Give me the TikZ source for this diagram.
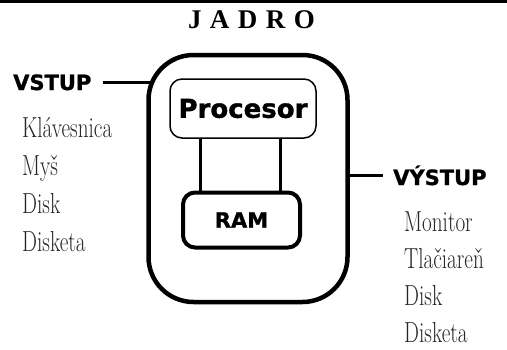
\documentclass[tikz,border=0pt]{standalone}
\usepackage{fontspec}
\usepackage{graphicx}
\usetikzlibrary{positioning}
\newfontfamily\titlefont{Liberation Serif}
\newfontfamily\labelfont{DejaVu Sans}[BoldFeatures={FakeBold=1.2}]
\newcommand{\narrowtxt}[1]{\scalebox{0.73}[1]{#1}}
\newcommand{\tgap}{\hspace{8.5pt}}

\begin{document}
\begin{tikzpicture}[x=1pt,y=-1pt,
  heading/.style={anchor=base west,inner sep=0pt,font=\labelfont\bfseries\fontsize{21}{25}\selectfont},
  item/.style={anchor=base west,inner sep=0pt,text=black!85,font=\fontsize{29}{34}\selectfont},
  wire/.style={line width=3pt},
  unit/.style={draw,rounded corners=12pt,inner sep=0pt}]
\useasboundingbox (0,0) rectangle (507,349);
\draw[line width=3pt] (0,1.5) -- (507,1.5);
\node[anchor=base,inner sep=0pt,font=\titlefont\bfseries\fontsize{27}{30}\selectfont] (title) at (251.5,28) {J\tgap A\tgap D\tgap R\tgap O};

% jadro s procesorom a pamatou
\node[draw,line width=4.5pt,rounded corners=45pt,minimum width=199pt,minimum height=247pt,inner sep=0pt] (core) at (248,178.5) {};
\node[unit,line width=1.5pt,minimum width=146pt,minimum height=59pt,font=\labelfont\bfseries\fontsize{26}{30}\selectfont] (cpu) at (243,108.5) {Procesor};
\node[unit,line width=4pt,minimum width=117pt,minimum height=55pt,font=\labelfont\bfseries\fontsize{21}{24}\selectfont] (ram) at (241.5,220) {RAM};
\coordinate (busl) at ([xshift=-43pt]cpu.south);
\coordinate (busr) at ([xshift=37pt]cpu.south);
\draw[wire] (busl) -- (busl |- ram.north);
\draw[wire] (busr) -- (busr |- ram.north);

% vstup
\node[heading] (vstup) at (13,90) {VSTUP};
\coordinate (inpt) at (vstup.east -| core.west);
\draw[wire] ([xshift=11pt]vstup.east) -- ([xshift=5pt]inpt);
\node[item] (in1) at (22,137) {\narrowtxt{Klávesnica}};
\node[item] (in2) at (22,175) {\narrowtxt{Myš}};
\node[item] (in3) at (22,213) {\narrowtxt{Disk}};
\node[item] (in4) at (22,251) {\narrowtxt{Disketa}};

% vystup
\node[heading] (vystup) at (393,185) {VÝSTUP};
\coordinate (outpt) at (vystup.west -| core.east);
\draw[wire] (outpt) -- ([xshift=-10pt]vystup.west);
\node[item] (out1) at (404,231) {\narrowtxt{Monitor}};
\node[item] (out2) at (404,268) {\narrowtxt{Tlačiareň}};
\node[item] (out3) at (404,305) {\narrowtxt{Disk}};
\node[item] (out4) at (404,342) {\narrowtxt{Disketa}};
\end{tikzpicture}
\end{document}
